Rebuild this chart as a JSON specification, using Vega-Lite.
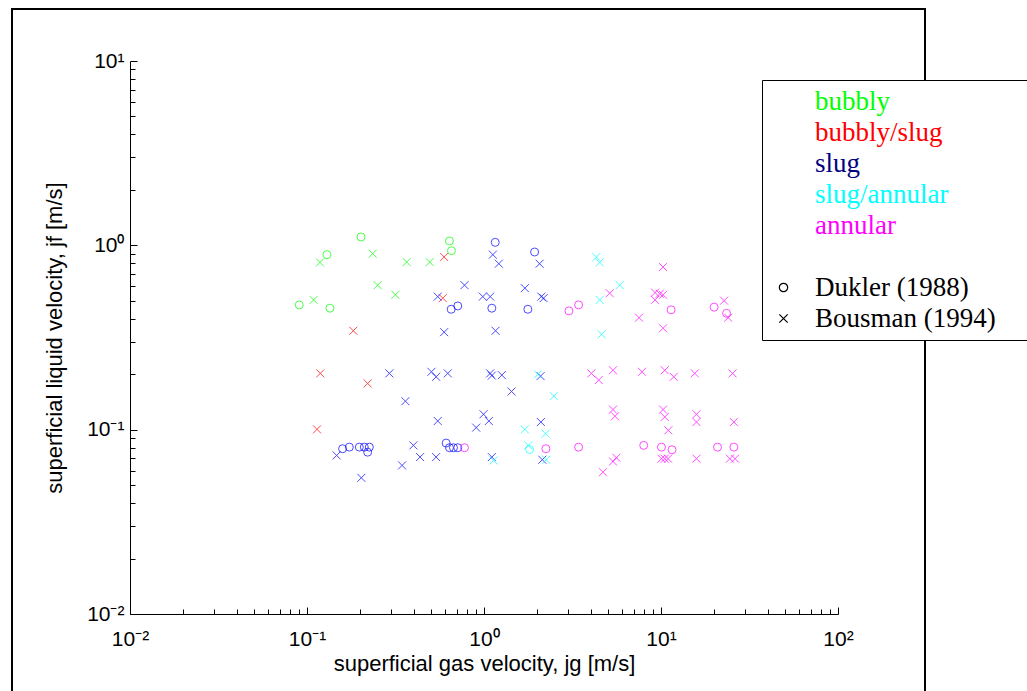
{
  "$schema": "https://vega.github.io/schema/vega-lite/v6.json",
  "autosize": "none",
  "padding": {"left": 12, "top": 9, "right": 102, "bottom": 0},
  "width": 913,
  "height": 700,
  "background": "white",
  "config": {
    "view": {"stroke": "black", "strokeWidth": 2},
    "axis": {
      "grid": false,
      "domainColor": "black",
      "domainWidth": 1,
      "tickColor": "black",
      "tickWidth": 1,
      "labelColor": "black",
      "titleColor": "black",
      "labelFont": "Liberation Sans",
      "titleFont": "Liberation Sans",
      "labelFontSize": 21,
      "titleFontSize": 22,
      "titleFontWeight": "normal"
    }
  },
  "data": {
    "values": [
      {"r": "bubbly", "s": "D", "x": 0.2019, "y": 1.11},
      {"r": "bubbly", "s": "D", "x": 0.1297, "y": 0.89},
      {"r": "bubbly", "s": "B", "x": 0.1184, "y": 0.808},
      {"r": "bubbly", "s": "B", "x": 0.2349, "y": 0.901},
      {"r": "bubbly", "s": "B", "x": 0.3658, "y": 0.811},
      {"r": "bubbly", "s": "B", "x": 0.4936, "y": 0.811},
      {"r": "bubbly", "s": "D", "x": 0.638, "y": 1.056},
      {"r": "bubbly", "s": "D", "x": 0.655, "y": 0.935},
      {"r": "bubbly", "s": "B", "x": 0.2507, "y": 0.608},
      {"r": "bubbly", "s": "B", "x": 0.3157, "y": 0.539},
      {"r": "bubbly", "s": "D", "x": 0.0904, "y": 0.475},
      {"r": "bubbly", "s": "B", "x": 0.109, "y": 0.506},
      {"r": "bubbly", "s": "D", "x": 0.1348, "y": 0.456},
      {"r": "bubbly/slug", "s": "B", "x": 0.5955, "y": 0.864},
      {"r": "bubbly/slug", "s": "B", "x": 0.5847, "y": 0.517},
      {"r": "bubbly/slug", "s": "B", "x": 0.1827, "y": 0.344},
      {"r": "bubbly/slug", "s": "B", "x": 0.1189, "y": 0.202},
      {"r": "bubbly/slug", "s": "B", "x": 0.2201, "y": 0.1781},
      {"r": "bubbly/slug", "s": "B", "x": 0.1139, "y": 0.1004},
      {"r": "slug", "s": "B", "x": 0.5478, "y": 0.527},
      {"r": "slug", "s": "B", "x": 0.7758, "y": 0.608},
      {"r": "slug", "s": "D", "x": 0.711, "y": 0.469},
      {"r": "slug", "s": "D", "x": 0.6525, "y": 0.45},
      {"r": "slug", "s": "B", "x": 0.5955, "y": 0.338},
      {"r": "slug", "s": "D", "x": 1.157, "y": 1.038},
      {"r": "slug", "s": "B", "x": 1.122, "y": 0.89},
      {"r": "slug", "s": "B", "x": 1.213, "y": 0.795},
      {"r": "slug", "s": "D", "x": 1.931, "y": 0.92},
      {"r": "slug", "s": "B", "x": 2.061, "y": 0.795},
      {"r": "slug", "s": "B", "x": 1.701, "y": 0.586},
      {"r": "slug", "s": "B", "x": 0.9845, "y": 0.527},
      {"r": "slug", "s": "B", "x": 1.084, "y": 0.527},
      {"r": "slug", "s": "B", "x": 2.107, "y": 0.527},
      {"r": "slug", "s": "B", "x": 2.171, "y": 0.517},
      {"r": "slug", "s": "D", "x": 1.107, "y": 0.456},
      {"r": "slug", "s": "D", "x": 1.769, "y": 0.45},
      {"r": "slug", "s": "B", "x": 1.162, "y": 0.344},
      {"r": "slug", "s": "B", "x": 0.292, "y": 0.202},
      {"r": "slug", "s": "B", "x": 0.5047, "y": 0.206},
      {"r": "slug", "s": "B", "x": 0.5365, "y": 0.1935},
      {"r": "slug", "s": "B", "x": 0.6242, "y": 0.202},
      {"r": "slug", "s": "B", "x": 0.3597, "y": 0.1427},
      {"r": "slug", "s": "B", "x": 0.5478, "y": 0.1114},
      {"r": "slug", "s": "B", "x": 0.9035, "y": 0.1026},
      {"r": "slug", "s": "D", "x": 0.1589, "y": 0.0788},
      {"r": "slug", "s": "D", "x": 0.1734, "y": 0.0804},
      {"r": "slug", "s": "D", "x": 0.1975, "y": 0.0804},
      {"r": "slug", "s": "D", "x": 0.2108, "y": 0.0804},
      {"r": "slug", "s": "D", "x": 0.225, "y": 0.0804},
      {"r": "slug", "s": "D", "x": 0.2201, "y": 0.0755},
      {"r": "slug", "s": "B", "x": 0.147, "y": 0.0725},
      {"r": "slug", "s": "B", "x": 0.3993, "y": 0.0822},
      {"r": "slug", "s": "B", "x": 0.4355, "y": 0.071},
      {"r": "slug", "s": "B", "x": 0.5365, "y": 0.071},
      {"r": "slug", "s": "B", "x": 0.3445, "y": 0.064},
      {"r": "slug", "s": "B", "x": 0.2027, "y": 0.0548},
      {"r": "slug", "s": "D", "x": 0.6113, "y": 0.0846},
      {"r": "slug", "s": "D", "x": 0.6382, "y": 0.0798},
      {"r": "slug", "s": "D", "x": 0.6723, "y": 0.0798},
      {"r": "slug", "s": "D", "x": 0.711, "y": 0.0798},
      {"r": "slug", "s": "B", "x": 1.084, "y": 0.202},
      {"r": "slug", "s": "B", "x": 1.107, "y": 0.1965},
      {"r": "slug", "s": "B", "x": 1.261, "y": 0.1977},
      {"r": "slug", "s": "B", "x": 2.088, "y": 0.1952},
      {"r": "slug", "s": "B", "x": 1.431, "y": 0.1611},
      {"r": "slug", "s": "B", "x": 0.9936, "y": 0.1212},
      {"r": "slug", "s": "B", "x": 1.065, "y": 0.1114},
      {"r": "slug", "s": "B", "x": 2.096, "y": 0.11},
      {"r": "slug", "s": "B", "x": 1.107, "y": 0.071},
      {"r": "slug", "s": "B", "x": 2.135, "y": 0.0687},
      {"r": "slug/annular", "s": "B", "x": 4.314, "y": 0.864},
      {"r": "slug/annular", "s": "B", "x": 4.504, "y": 0.808},
      {"r": "slug/annular", "s": "B", "x": 5.843, "y": 0.608},
      {"r": "slug/annular", "s": "B", "x": 4.504, "y": 0.506},
      {"r": "slug/annular", "s": "B", "x": 4.622, "y": 0.329},
      {"r": "slug/annular", "s": "B", "x": 2.016, "y": 0.1995},
      {"r": "slug/annular", "s": "B", "x": 2.483, "y": 0.1519},
      {"r": "slug/annular", "s": "B", "x": 1.701, "y": 0.1004},
      {"r": "slug/annular", "s": "B", "x": 2.228, "y": 0.0951},
      {"r": "slug/annular", "s": "B", "x": 1.779, "y": 0.0822},
      {"r": "slug/annular", "s": "D", "x": 1.809, "y": 0.0781},
      {"r": "slug/annular", "s": "B", "x": 1.132, "y": 0.0681},
      {"r": "slug/annular", "s": "B", "x": 2.248, "y": 0.0687},
      {"r": "annular", "s": "D", "x": 3.019, "y": 0.441},
      {"r": "annular", "s": "D", "x": 3.424, "y": 0.475},
      {"r": "annular", "s": "B", "x": 5.131, "y": 0.55},
      {"r": "annular", "s": "B", "x": 7.513, "y": 0.405},
      {"r": "annular", "s": "B", "x": 9.254, "y": 0.554},
      {"r": "annular", "s": "B", "x": 9.838, "y": 0.546},
      {"r": "annular", "s": "B", "x": 10.27, "y": 0.539},
      {"r": "annular", "s": "B", "x": 9.254, "y": 0.506},
      {"r": "annular", "s": "D", "x": 11.4, "y": 0.447},
      {"r": "annular", "s": "B", "x": 10.27, "y": 0.762},
      {"r": "annular", "s": "B", "x": 10.27, "y": 0.355},
      {"r": "annular", "s": "D", "x": 19.96, "y": 0.462},
      {"r": "annular", "s": "B", "x": 22.74, "y": 0.501},
      {"r": "annular", "s": "D", "x": 23.46, "y": 0.428},
      {"r": "annular", "s": "B", "x": 23.95, "y": 0.405},
      {"r": "annular", "s": "D", "x": 2.236, "y": 0.0788},
      {"r": "annular", "s": "D", "x": 3.424, "y": 0.0804},
      {"r": "annular", "s": "D", "x": 0.7758, "y": 0.0798},
      {"r": "annular", "s": "B", "x": 4.042, "y": 0.202},
      {"r": "annular", "s": "B", "x": 4.445, "y": 0.1857},
      {"r": "annular", "s": "B", "x": 5.356, "y": 0.21},
      {"r": "annular", "s": "B", "x": 7.812, "y": 0.206},
      {"r": "annular", "s": "B", "x": 10.5, "y": 0.21},
      {"r": "annular", "s": "B", "x": 11.8, "y": 0.1935},
      {"r": "annular", "s": "B", "x": 15.52, "y": 0.202},
      {"r": "annular", "s": "B", "x": 25.37, "y": 0.202},
      {"r": "annular", "s": "B", "x": 5.356, "y": 0.1285},
      {"r": "annular", "s": "B", "x": 5.496, "y": 0.1182},
      {"r": "annular", "s": "B", "x": 10.27, "y": 0.1285},
      {"r": "annular", "s": "B", "x": 10.5, "y": 0.1172},
      {"r": "annular", "s": "B", "x": 11.0, "y": 0.0992},
      {"r": "annular", "s": "B", "x": 15.87, "y": 0.1212},
      {"r": "annular", "s": "B", "x": 15.87, "y": 0.11},
      {"r": "annular", "s": "B", "x": 25.8, "y": 0.11},
      {"r": "annular", "s": "D", "x": 7.987, "y": 0.0822},
      {"r": "annular", "s": "D", "x": 10.06, "y": 0.0804},
      {"r": "annular", "s": "D", "x": 11.54, "y": 0.0778},
      {"r": "annular", "s": "D", "x": 20.86, "y": 0.0804},
      {"r": "annular", "s": "D", "x": 25.8, "y": 0.0804},
      {"r": "annular", "s": "B", "x": 4.701, "y": 0.0588},
      {"r": "annular", "s": "B", "x": 5.356, "y": 0.0672},
      {"r": "annular", "s": "B", "x": 5.598, "y": 0.0704},
      {"r": "annular", "s": "B", "x": 10.06, "y": 0.0696},
      {"r": "annular", "s": "B", "x": 10.5, "y": 0.0696},
      {"r": "annular", "s": "B", "x": 10.96, "y": 0.0696},
      {"r": "annular", "s": "B", "x": 15.87, "y": 0.0696},
      {"r": "annular", "s": "B", "x": 24.5, "y": 0.0696},
      {"r": "annular", "s": "B", "x": 26.2, "y": 0.0696}
    ]
  },
  "mark": {"type": "point", "filled": false, "strokeWidth": 1, "size": 64, "clip": false},
  "encoding": {
    "x": {
      "field": "x",
      "type": "quantitative",
      "scale": {"type": "log", "domain": [0.01, 100], "range": [118, 826], "nice": false},
      "axis": {
        "orient": "bottom",
        "offset": -95,
        "values": [0.01,0.02,0.03,0.04,0.05,0.06,0.07,0.08,0.09,0.1,0.2,0.3,0.4,0.5,0.6,0.7,0.8,0.9,1,2,3,4,5,6,7,8,9,10,20,30,40,50,60,70,80,90,100],
        "labelExpr": "abs(log(datum.value)/LN10 - round(log(datum.value)/LN10)) < 0.001 ? (round(log(datum.value)/LN10) == -2 ? '10⁻²' : round(log(datum.value)/LN10) == -1 ? '10⁻¹' : round(log(datum.value)/LN10) == 0 ? '10⁰' : round(log(datum.value)/LN10) == 1 ? '10¹' : '10²') : ''",
        "tickSize": {"condition": {"test": "abs(log(datum.value)/LN10 - round(log(datum.value)/LN10)) < 0.001", "value": -7}, "value": -5},
        "labelPadding": 21,
        "labelFlush": false,
        "labelOverlap": false,
        "titlePadding": 2,
        "title": "superficial gas velocity, jg [m/s]"
      }
    },
    "y": {
      "field": "y",
      "type": "quantitative",
      "scale": {"type": "log", "domain": [0.01, 10], "range": [605, 52], "nice": false},
      "axis": {
        "orient": "left",
        "offset": -118,
        "values": [0.01,0.02,0.03,0.04,0.05,0.06,0.07,0.08,0.09,0.1,0.2,0.3,0.4,0.5,0.6,0.7,0.8,0.9,1,2,3,4,5,6,7,8,9,10],
        "labelExpr": "abs(log(datum.value)/LN10 - round(log(datum.value)/LN10)) < 0.001 ? (round(log(datum.value)/LN10) == -2 ? '10⁻²' : round(log(datum.value)/LN10) == -1 ? '10⁻¹' : round(log(datum.value)/LN10) == 0 ? '10⁰' : round(log(datum.value)/LN10) == 1 ? '10¹' : '10²') : ''",
        "tickSize": {"condition": {"test": "abs(log(datum.value)/LN10 - round(log(datum.value)/LN10)) < 0.001", "value": -7}, "value": -5},
        "labelPadding": 13,
        "labelFlush": false,
        "labelOverlap": false,
        "titlePadding": 20,
        "title": "superficial liquid velocity, jf [m/s]"
      }
    },
    "color": {
      "field": "r",
      "type": "nominal",
      "scale": {
        "domain": ["bubbly", "bubbly/slug", "slug", "slug/annular", "annular", "_gap", "Dukler (1988)", "Bousman (1994)"],
        "range": ["#00ff00", "#ff0000", "#0000ff", "#00ffff", "#ff00ff", "#ffffff", "#000000", "#000000"]
      },
      "legend": {
        "orient": "none",
        "legendX": 750,
        "legendY": 71,
        "title": null,
        "padding": 8,
        "rowPadding": 3,
        "labelOffset": 18,
        "labelFont": "Liberation Serif",
        "labelFontSize": 27,
        "labelLimit": 800,
        "symbolSize": 70,
        "symbolStrokeWidth": 1.2,
        "symbolFillColor": "transparent",
        "symbolType": {"expr": "datum.value == 'Bousman (1994)' ? 'M-1,-1L1,1M-1,1L1,-1' : 'circle'"},
        "symbolOpacity": {"expr": "(datum.value == 'Dukler (1988)' || datum.value == 'Bousman (1994)') ? 1 : 0"},
        "strokeColor": "black",
        "fillColor": "white",
        "encoding": {"legend": {"update": {"strokeWidth": {"value": 2}}}},
        "labelExpr": "datum.value == '_gap' ? '' : datum.value == 'Bousman (1994)' ? 'Bousman (1994)\u00a0\u2800' : datum.value",
        "labelColor": {"expr": "datum.value == 'slug' ? '#000080' : scale('color', datum.value)"}
      }
    },
    "shape": {
      "field": "s",
      "type": "nominal",
      "scale": {"domain": ["D", "B"], "range": ["circle", "M-1,-1L1,1M-1,1L1,-1"]},
      "legend": null
    }
  }
}
